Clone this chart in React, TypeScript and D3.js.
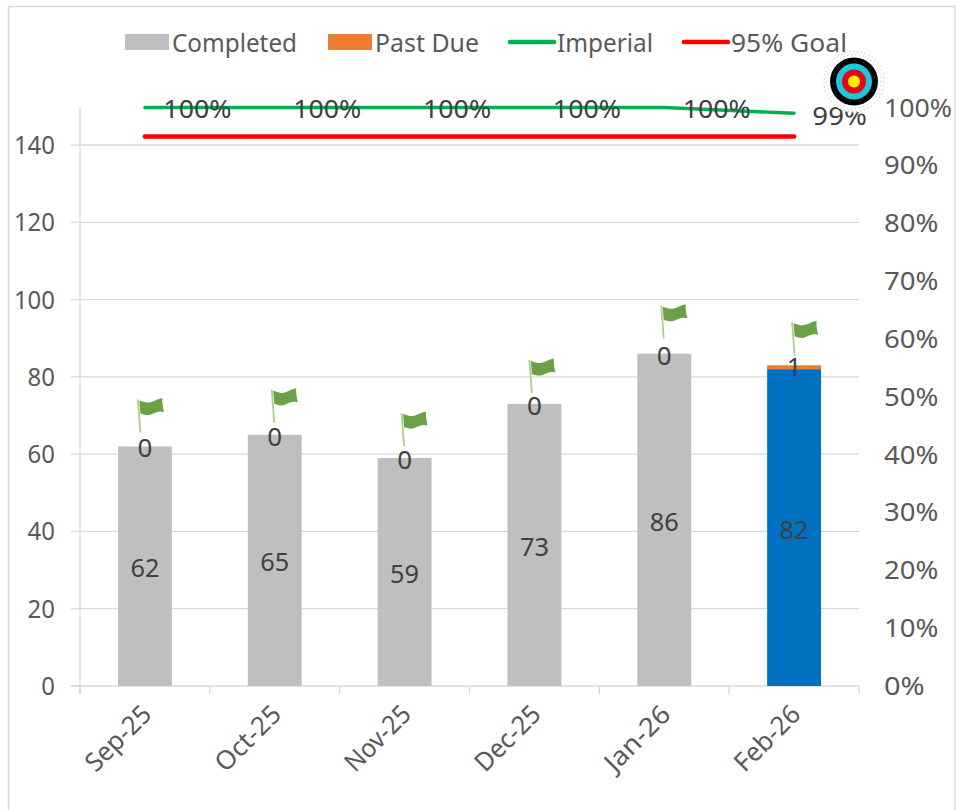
import React from "react";
import * as d3 from "d3";

const categories = ["Sep-25", "Oct-25", "Nov-25", "Dec-25", "Jan-26", "Feb-26"];
const completed = [62, 65, 59, 73, 86, 82];
const pastDue = [0, 0, 0, 0, 0, 1];
const imperial = [1, 1, 1, 1, 1, 0.99];
const goal = [0.95, 0.95, 0.95, 0.95, 0.95, 0.95];
const imperialLabels = ["100%", "100%", "100%", "100%", "100%", "99%"];
const leftTicks = [0, 20, 40, 60, 80, 100, 120, 140];
const rightTicks = [0, 0.1, 0.2, 0.3, 0.4, 0.5, 0.6, 0.7, 0.8, 0.9, 1];
const barColors = ["#bfbfbf", "#bfbfbf", "#bfbfbf", "#bfbfbf", "#bfbfbf", "#0070c0"];
const FONT = "'Noto Sans', 'Open Sans', sans-serif";
const FS = 26;

const pctWidth = (s: string) => (s.length - 1) * 13.7 + 27;

function Flag({ x, y }: { x: number; y: number }) {
  return (
    <g transform={`translate(${x},${y})`}>
      <path d="M0,0 L2.5,33" stroke="#a9d18e" strokeWidth={1.8} fill="none" />
      <path d="M1.5,1 C7,3 11,4 15,2 C19,0 22,-1 24.5,-1.5 C24,3 25,8 26,12.5 C21,11 17,13 13,15 C9,16.5 5,15 2.5,14 Z" fill="#6aa146" />
    </g>
  );
}

function Target({ x, y }: { x: number; y: number }) {
  const rings: [number, string][] = [[24, "#000000"], [18, "#1fc6dc"], [12, "#e30613"], [6, "#ffed00"]];
  return (
    <g transform={`translate(${x},${y})`}>
      <circle r={31} fill="#fff" />
      <circle r={30} fill="none" stroke="#aaa" strokeWidth={1} strokeDasharray="1 3" />
      <circle r={27} fill="none" stroke="#bbb" strokeWidth={1} strokeDasharray="1 3" />
      {rings.map(([r, c]) => <circle key={r} r={r} fill={c} />)}
      <circle r={21} fill="none" stroke="#777" strokeWidth={0.8} strokeDasharray="1 8" />
    </g>
  );
}

export default function App() {
  const x = d3.scaleBand<string>().domain(categories).range([80, 859]).paddingInner(0.585).paddingOuter(0.2925);
  const cx = (c: string) => x(c)! + x.bandwidth() / 2;
  const yL = d3.scaleLinear().domain([0, 140]).range([686, 145]);
  const yR = d3.scaleLinear().domain([0, 1]).range([686, 107.5]);
  const step = x.step();
  const lineOf = (vals: number[]) =>
    d3.line<number>().x((_, i) => cx(categories[i])).y((d) => yR(d))(vals)!;
  const flagOffsets = [[-7, -47], [-3, -45], [-3, -45], [-5, -44], [-3, -48], [-2, -43]];
  const legend = [
    { t: "Completed", kind: "bar", c: "#bfbfbf", sx: 125, tx: 172, w: 125 },
    { t: "Past Due", kind: "bar", c: "#ed7d31", sx: 328, tx: 375, w: 104 },
    { t: "Imperial", kind: "line", c: "#00b050", sx: 510, tx: 557, w: 96 },
    { t: "95% Goal", kind: "line", c: "#ff0000", sx: 684, tx: 731, w: 116 },
  ];
  return (
    <svg width={956} height={810} style={{ position: "absolute", left: 0, top: 0, background: "#fff" }} fontFamily={FONT}>
      <rect x={8.5} y={6.5} width={946.5} height={815} fill="#fff" stroke="#d9d9d9" strokeWidth={1.5} />
      {leftTicks.slice(1).map((t) => (
        <line key={t} x1={80} x2={859} y1={yL(t)} y2={yL(t)} stroke="#d9d9d9" strokeWidth={1.3} />
      ))}
      <line x1={80} x2={80} y1={107} y2={694} stroke="#d9d9d9" strokeWidth={1.3} />
      <line x1={71} x2={859} y1={686} y2={686} stroke="#d9d9d9" strokeWidth={1.3} />
      {leftTicks.map((t) => <line key={t} x1={71} x2={80} y1={yL(t)} y2={yL(t)} stroke="#d9d9d9" strokeWidth={1.3} />)}
      {d3.range(7).map((i) => (
        <line key={i} x1={80 + i * step} x2={80 + i * step} y1={686} y2={694} stroke="#d9d9d9" strokeWidth={1.3} />
      ))}
      {categories.map((c, i) => (
        <g key={c}>
          <rect x={x(c)} y={yL(completed[i])} width={x.bandwidth()} height={686 - yL(completed[i])} fill={barColors[i]} />
          {pastDue[i] > 0 && (
            <rect x={x(c)} y={yL(completed[i] + pastDue[i])} width={x.bandwidth()} height={yL(completed[i]) - yL(completed[i] + pastDue[i])} fill="#ed7d31" />
          )}
        </g>
      ))}
      <path d={lineOf(imperial)} fill="none" stroke="#00b050" strokeWidth={3.4} strokeLinecap="round" />
      <path d={lineOf(goal)} fill="none" stroke="#ff0000" strokeWidth={4.5} strokeLinecap="round" />
      {categories.map((c, i) => (
        <g key={c} fontSize={FS} fill="#404040" textAnchor="middle">
          <text x={cx(c)} y={yL(completed[i] / 2) + 11} textLength={29} lengthAdjust="spacingAndGlyphs">{completed[i]}</text>
          <text x={cx(c)} y={yL(completed[i] + pastDue[i]) + 11}>{pastDue[i]}</text>
          <text x={cx(c) + (i === 5 ? 45.5 : 52.5)} y={yR(imperial[i]) + (i === 5 ? 12 : 10)} textLength={pctWidth(imperialLabels[i])} lengthAdjust="spacingAndGlyphs">{imperialLabels[i]}</text>
        </g>
      ))}
      {categories.map((c, i) => (
        <Flag key={c} x={cx(c) + flagOffsets[i][0]} y={yL(completed[i] + pastDue[i]) + flagOffsets[i][1]} />
      ))}
      <Target x={854} y={81.5} />
      <g fontSize={FS} fill="#595959" textAnchor="end">
        {leftTicks.map((t) => {
          const s = String(t);
          return <text key={t} x={55} y={yL(t) + 9} textLength={s.length * 13.7} lengthAdjust="spacingAndGlyphs">{s}</text>;
        })}
      </g>
      <g fontSize={FS} fill="#595959" textAnchor="start">
        {rightTicks.map((t) => {
          const s = d3.format(".0%")(t);
          return <text key={t} x={884} y={yR(t) + 9} textLength={pctWidth(s)} lengthAdjust="spacingAndGlyphs">{s}</text>;
        })}
      </g>
      {categories.map((c) => (
        <text key={c} transform={`translate(${cx(c) + 8},716) rotate(-45)`} textAnchor="end" fontSize={FS} fill="#595959" textLength={81} lengthAdjust="spacingAndGlyphs">{c}</text>
      ))}
      {legend.map((l) => (
        <g key={l.t}>
          {l.kind === "bar"
            ? <rect x={l.sx} y={34} width={44} height={16} fill={l.c} />
            : <line x1={l.sx} x2={l.sx + 44} y1={42} y2={42} stroke={l.c} strokeWidth={4.5} strokeLinecap="round" />}
          <text x={l.tx} y={52} fontSize={FS} fill="#595959" textLength={l.w} lengthAdjust="spacingAndGlyphs">{l.t}</text>
        </g>
      ))}
    </svg>
  );
}
